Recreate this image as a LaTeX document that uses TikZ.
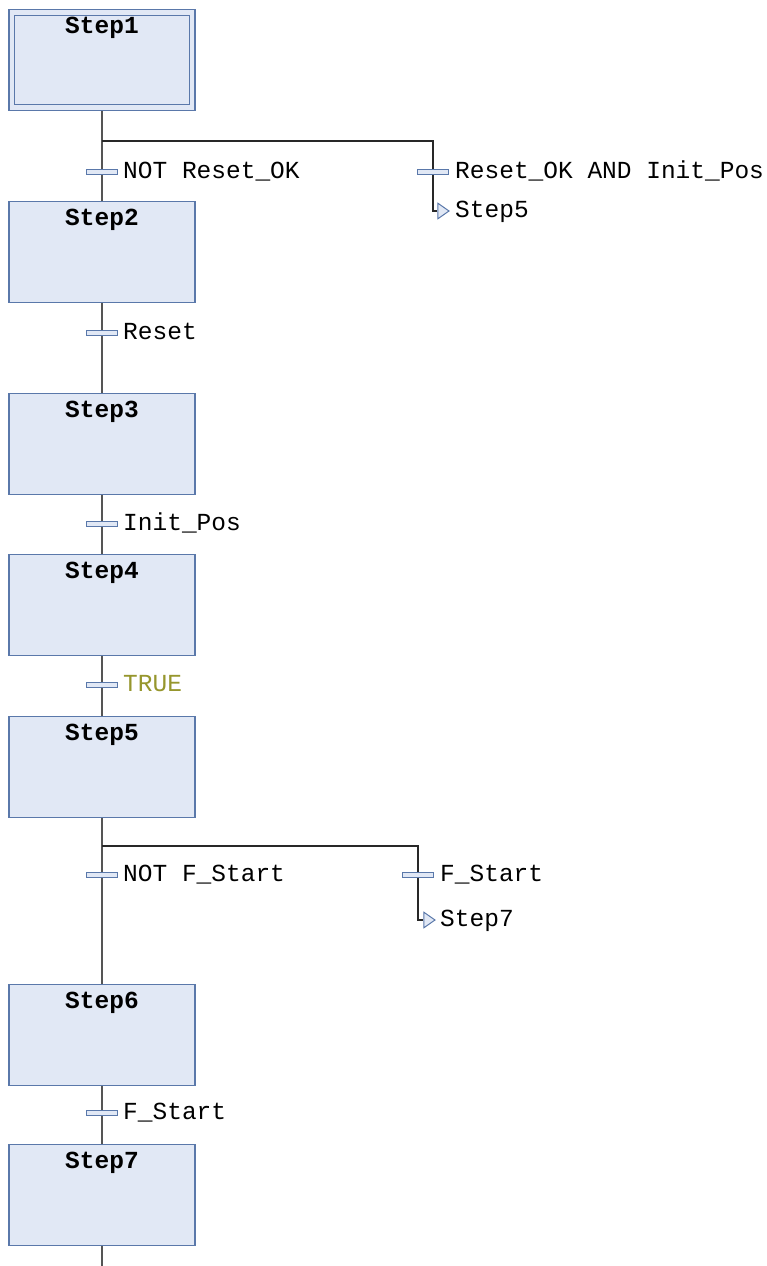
\documentclass[tikz,border=0pt]{standalone}
\usepackage{fontspec}
\setmonofont{Liberation Mono}
\usetikzlibrary{shapes.geometric}
\definecolor{sf}{RGB}{225,232,245}
\definecolor{sb}{RGB}{90,120,170}
\definecolor{lc}{RGB}{85,85,85}
\definecolor{bc}{RGB}{40,40,40}
\definecolor{olive}{RGB}{150,150,45}
\tikzset{
  stepbox/.style={draw=sb, fill=sf, line width=1.2pt, minimum width=186pt, minimum height=101pt, inner sep=0pt, anchor=north},
  innerbox/.style={draw=sb, line width=1.2pt, minimum width=175pt, minimum height=89pt, inner sep=0pt, anchor=north},
  steplbl/.style={font=\ttfamily\bfseries\fontsize{24.5}{26}\selectfont, anchor=base, inner sep=0pt},
  trbar/.style={draw=sb, fill=sf, line width=1pt, minimum width=31pt, minimum height=5pt, inner sep=0pt},
  trlbl/.style={font=\ttfamily\fontsize{24.5}{26}\selectfont, anchor=base west, inner sep=0pt},
  jumptri/.style={isosceles triangle, isosceles triangle apex angle=70, draw=sb, fill=sf, line width=1pt, minimum height=11pt, inner sep=0pt},
  wire/.style={draw=lc, line width=1.3pt},
  bwire/.style={draw=bc, line width=1.2pt}
}
\begin{document}
\begin{tikzpicture}[x=1pt,y=-1pt]
\useasboundingbox (0,0) rectangle (766,1266);
% steps
\node[stepbox] (s1) at (102,9) {};
\node[innerbox] (s1i) at (102,15) {};
\node[steplbl] (s1l) at (102,33) {Step1};
\node[stepbox] (s2) at (102,201) {};
\node[steplbl] (s2l) at (102,225) {Step2};
\node[stepbox] (s3) at (102,393) {};
\node[steplbl] (s3l) at (102,417) {Step3};
\node[stepbox] (s4) at (102,554) {};
\node[steplbl] (s4l) at (102,578) {Step4};
\node[stepbox] (s5) at (102,716) {};
\node[steplbl] (s5l) at (102,740) {Step5};
\node[stepbox] (s6) at (102,984) {};
\node[steplbl] (s6l) at (102,1008) {Step6};
\node[stepbox] (s7) at (102,1144) {};
\node[steplbl] (s7l) at (102,1168) {Step7};
% transitions
\node[trbar] (t1) at (102,172) {};
\node[trlbl] (t1l) at (123,178) {NOT Reset\_OK};
\node[trbar] (t1b) at (433,172) {};
\node[trlbl] (t1bl) at (455,178) {Reset\_OK AND Init\_Pos};
\node[jumptri] (j1) at (442,211) {};
\node[trlbl] (j1l) at (455,217) {Step5};
\node[trbar] (t2) at (102,333) {};
\node[trlbl] (t2l) at (123,339) {Reset};
\node[trbar] (t3) at (102,524) {};
\node[trlbl] (t3l) at (123,530) {Init\_Pos};
\node[trbar] (t4) at (102,685) {};
\node[trlbl, text=olive] (t4l) at (123,691) {TRUE};
\node[trbar] (t5) at (102,875) {};
\node[trlbl] (t5l) at (123,881) {NOT F\_Start};
\node[trbar] (t5b) at (418,875) {};
\node[trlbl] (t5bl) at (440,881) {F\_Start};
\node[jumptri] (j2) at (428,920) {};
\node[trlbl] (j2l) at (440,926) {Step7};
\node[trbar] (t6) at (102,1113) {};
\node[trlbl] (t6l) at (123,1119) {F\_Start};
% coordinates
\coordinate (b1) at (102,141);
\coordinate (b1r) at (433,141);
\coordinate (b2) at (102,846);
\coordinate (b2r) at (418,846);
\coordinate (end) at (102,1266);
% wires
\draw[wire] (s1) -- (t1) -- (s2);
\draw[wire] (s2) -- (t2) -- (s3);
\draw[wire] (s3) -- (t3) -- (s4);
\draw[wire] (s4) -- (t4) -- (s5);
\draw[wire] (s5) -- (t5) -- (s6);
\draw[wire] (s6) -- (t6) -- (s7);
\draw[wire] (s7) -- (end);
\draw[bwire] (b1) -- (b1r) -- (t1b);
\draw[bwire] (t1b) |- (j1);
\draw[bwire] (b2) -- (b2r) -- (t5b);
\draw[bwire] (t5b) |- (j2);
\end{tikzpicture}
\end{document}
